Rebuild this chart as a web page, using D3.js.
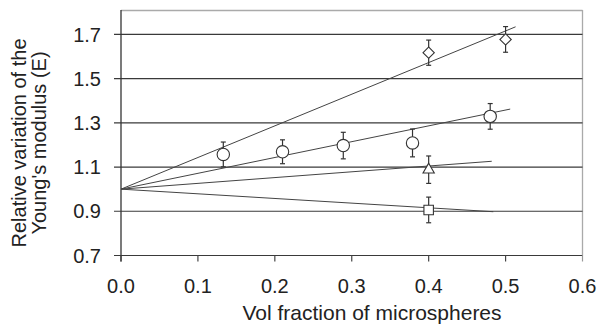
<!DOCTYPE html>
<html>
<head>
<meta charset="utf-8">
<script src="https://cdn.jsdelivr.net/npm/d3@7"></script>
<style>
	body { margin: 0; background: #fff; }
	svg { display: block; }
	text { font-family: "Liberation Sans", Arial, sans-serif; fill: #222; }
</style>
</head>
<body>
<svg id="chart"></svg>
<script>
// values
var yTicks = [0.7, 0.9, 1.1, 1.3, 1.5, 1.7];
var xTicks = [0.0, 0.1, 0.2, 0.3, 0.4, 0.5, 0.6];

var circleX = [0.133, 0.21, 0.289, 0.379, 0.48];
var circleY = [1.157, 1.169, 1.197, 1.209, 1.329];
var circleErr = [0.056, 0.054, 0.060, 0.063, 0.058];

var diamondX = [0.4, 0.5];
var diamondY = [1.617, 1.677];
var diamondErr = [0.057, 0.058];

var triangleX = [0.4];
var triangleY = [1.088];
var triangleErr = [0.062];

var squareX = [0.4];
var squareY = [0.906];
var squareErr = [0.058];

// fitted lines, all starting at (0, 1.0)
var fitStart = [0, 1.0];
var fitEndX = [0.513, 0.506, 0.482, 0.484];
var fitEndY = [1.734, 1.362, 1.126, 0.898];

var W = 599, H = 325;
var margin = {top: 10, right: 16.5, bottom: 69.5, left: 121};
var width = W - margin.left - margin.right,
	height = H - margin.top - margin.bottom;

var svg = d3.select("#chart").attr("width", W).attr("height", H);

var x = d3.scaleLinear().domain([0, 0.6]).range([0, width]);
var y = d3.scaleLinear().domain([0.7, 1.81]).range([height, 0]);

var g = svg.append("g").attr("transform", "translate(" + margin.left + "," + margin.top + ")");

// frame (light grey top / right)
g.append("line")
	.attr("x1", 0).attr("x2", width).attr("y1", 0.5).attr("y2", 0.5)
	.attr("stroke", "#aaa").attr("stroke-width", 1.3);
g.append("line")
	.attr("x1", width).attr("x2", width).attr("y1", 0).attr("y2", height)
	.attr("stroke", "#aaa").attr("stroke-width", 1.3);

// horizontal grid, sticking out left as ticks
g.append("g")
	.selectAll("line")
	.data(yTicks)
	.enter().append("line")
	.attr("x1", -7).attr("x2", width)
	.attr("y1", function(d) { return y(d); })
	.attr("y2", function(d) { return y(d); })
	.attr("stroke", "#3a3a3a").attr("stroke-width", 1.2);

// left axis line
g.append("line")
	.attr("x1", 0).attr("x2", 0).attr("y1", 0).attr("y2", height + 6)
	.attr("stroke", "#333").attr("stroke-width", 1.3);

// x ticks
g.append("g")
	.selectAll("line")
	.data(xTicks)
	.enter().append("line")
	.attr("x1", function(d) { return x(d); })
	.attr("x2", function(d) { return x(d); })
	.attr("y1", height).attr("y2", height + 6)
	.attr("stroke", function(d, i) { return i == xTicks.length - 1 ? "#999" : "#444"; })
	.attr("stroke-width", 1.2);

// tick labels
g.append("g")
	.selectAll("text")
	.data(yTicks)
	.enter().append("text")
	.attr("x", -20)
	.attr("y", function(d) { return y(d); })
	.attr("dy", "0.36em")
	.attr("text-anchor", "end")
	.attr("font-size", 20)
	.text(function(d) { return d3.format(".1f")(d); });

g.append("g")
	.selectAll("text")
	.data(xTicks)
	.enter().append("text")
	.attr("x", function(d) { return x(d); })
	.attr("y", height + 37)
	.attr("text-anchor", "middle")
	.attr("font-size", 20)
	.text(function(d) { return d3.format(".1f")(d); });

// fit lines
g.append("g")
	.selectAll("line")
	.data(fitEndX)
	.enter().append("line")
	.attr("x1", x(fitStart[0]))
	.attr("y1", y(fitStart[1]))
	.attr("x2", function(d) { return x(d); })
	.attr("y2", function(d, i) { return y(fitEndY[i]); })
	.attr("stroke", "#444").attr("stroke-width", 1);

// error bars
function errorBars(xs, ys, errs) {
	var eg = g.append("g").attr("stroke", "#333").attr("stroke-width", 1.2);
	xs.forEach(function(xv, i) {
		var cx = x(xv), top = y(ys[i] + errs[i]), bot = y(ys[i] - errs[i]);
		eg.append("line").attr("x1", cx).attr("x2", cx).attr("y1", top).attr("y2", bot);
		eg.append("line").attr("x1", cx - 2.5).attr("x2", cx + 2.5).attr("y1", top).attr("y2", top);
		eg.append("line").attr("x1", cx - 2.5).attr("x2", cx + 2.5).attr("y1", bot).attr("y2", bot);
	});
}
errorBars(circleX, circleY, circleErr);
errorBars(diamondX, diamondY, diamondErr);
errorBars(triangleX, triangleY, triangleErr);
errorBars(squareX, squareY, squareErr);

function markers(xs, ys, type, size, rot) {
	g.append("g")
		.selectAll("path")
		.data(xs)
		.enter().append("path")
		.attr("transform", function(d, i) { return "translate(" + x(d) + "," + y(ys[i]) + ") rotate(" + (rot || 0) + ")"; })
		.attr("d", d3.symbol().type(type).size(size))
		.attr("fill", "#fff")
		.attr("stroke", "#333")
		.attr("stroke-width", 1.1);
}
markers(circleX, circleY, d3.symbolCircle, 120);
// diamond drawn as a square turned 45 degrees (wider than d3's diamond)
markers(diamondX, diamondY, d3.symbolSquare, 64, 45);
markers(triangleX, triangleY, d3.symbolTriangle, 55);
markers(squareX, squareY, d3.symbolSquare, 90);

// axis titles
svg.append("text")
	.attr("x", 372)
	.attr("y", 320)
	.attr("text-anchor", "middle")
	.attr("font-size", 21)
	.text("Vol fraction of microspheres");

var yt = svg.append("text")
	.attr("transform", "translate(26,143) rotate(-90)")
	.attr("text-anchor", "middle")
	.attr("font-size", 20);
yt.append("tspan").attr("x", 0).attr("y", 0).text("Relative variation of the");
yt.append("tspan").attr("x", 0).attr("y", 20).text("Young's modulus (E)");
</script>
</body>
</html>
